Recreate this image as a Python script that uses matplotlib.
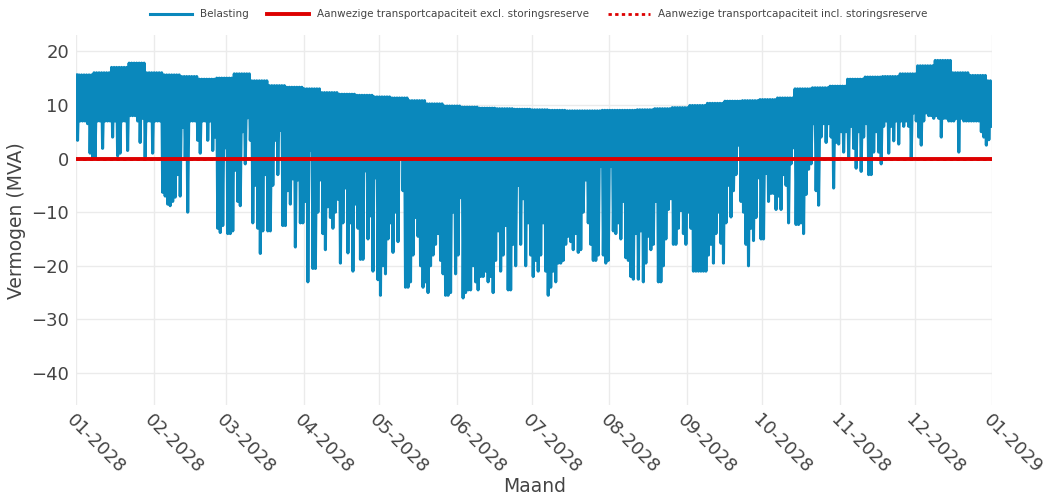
import numpy as np
import matplotlib
matplotlib.use('Agg')
import matplotlib.pyplot as plt
import matplotlib.dates as mdates
from datetime import datetime

# daily maximum load (MVA), one value per week (read from the top envelope)
week_max = [15.6, 16.0, 17.0, 17.8, 16.0, 15.6, 15.3, 14.8, 15.0, 15.8,
            14.5, 13.6, 13.3, 13.0, 12.3, 12.0, 11.8, 11.5, 11.3, 10.8,
            10.2, 9.8, 9.6, 9.4, 9.3, 9.2, 9.1, 9.0, 8.9, 8.9,
            9.0, 9.0, 9.1, 9.3, 9.5, 9.9, 10.3, 10.7, 10.8, 11.0,
            11.3, 13.0, 13.2, 13.5, 14.8, 15.2, 15.3, 15.8, 17.3, 18.3,
            16.0, 15.5, 14.5]

# daily minimum load (MVA) per month
jan_min = [3.4, 7, 7, 7, 6.5, 1, 0.2, 0, 7, 7, 1.9, 7, 7, 7, 4, 7, 0.5, 1, 7, 7,
           1.5, 8, 8, 8, 7, 3, 7.5, 0.3, 7, 7, 1]
feb_min = [7, 7, 7, -6.3, -7, -8.5, -8.8, -8, -7.2, -3, -7, 5.8, 0, -10, 7, 7, 7,
           3.4, 1, 7, 7, 3.4, 7, 1.5, 4, -13, -13.8, -12.5, 2]
mar_min = [-14, -14, -13.5, -2.2, -8, -8.8, 5, -1, 7.6, 3.4, -12, -5, -13, -17.7,
           -13.5, -3, -13.5, -13.5, -5, 3.4, -3, 5.3, -12.5, -12.5, -6, -8.5, -3.8,
           -16.5, -4, -12, -12]
apr_min = [-8, -23, 1.5, -20.5, -20.5, -10, -4, -14, -17, -9, -11, -13, -10, -7.6,
           -19.5, -12, -5.5, -17.6, -12, -21, -8.5, -13, -18.8, -18.8, -2.3, -15,
           -10.7, -21, -3.6, -22.6]
may_min = [-25.5, -20, -21.5, -15, -12, -17.5, -10, -15.5, 0.3, -6, -24, -24, -23,
           -18, -11, -14.5, -20, -24, -23, -25, -20, -18, -16, -14, -19, -21.5,
           -25.5, -25.5, -25, -10, -21.5]
jun_min = [-18, -7.3, -26, -25, -24.5, -24.5, -20, -23, -24.5, -22, -22, -21, -23,
           -22, -25, -19, -13.5, -21, -18, -12.5, -24.5, -24.5, -16, -20, -5, -16,
           -7.5, -20, -12, -18]
jul_min = [-22, -19, -21, -18, -12, -21, -25.5, -24, -21, -23, -19.5, -19.5, -19,
           -16, -14.5, -15.5, -17, -14, -17.5, -17, -10, -4, -12, -16, -19, -19,
           -18, -1.5, -18, -19.5, -19]
aug_min = [-1.5, -13.5, -14, -12, -15, -8, -18.5, -19, -22, -22.5, -14, -22.5,
           -13.5, -23, -19.5, -14.5, -17, -16, -8, -23, -23, -20, -15, -9.5, -7.5,
           -16, -16, -13, -9.7, -14, -16]
sep_min = [-10, -13, -21, -21, -21, -21, -21, -21, -18, -16, -19.5, -14, -10,
           -15.8, -19.5, -12, -5, -10.9, -6, -3, 2.5, -8, -10, -16, -20, -13,
           -15.3, -11, -3.6, -15]
oct_min = [-15, -2.8, -8, -6.5, -6.5, -9.5, -7, -9.5, -3, -5, -12, -1, 2, -12.3,
           -12.3, -12, -14, -6.7, -2, -1, 6.5, -6, -8.7, 4, 6.5, 3, 6.5, 4, -5.5,
           3, 2.7]
nov_min = [5, 1.2, 5, 0, 6, 1.9, -1.8, 5, -2.4, 4, 6.5, -3, -3, 1.2, 5, 1.2, -1,
           6, 7, 1, 6, 3.3, 7, 2.7, 7, 6, 7, 6, 0, 8.5]
dec_min = [7, 4, 2.5, 7, 8.5, 8, 8, 7.5, 8, 7.5, 4, 7.5, 7.5, 7, 7, 7, 7.5, 1.2,
           7.5, 7, 7, 7, 7, 7, 7, 7, 5, 4, 2.5, 3.5, 6]

capacity_excl = 0.0
capacity_incl = 0.0

month_ticks = [datetime(2028, m, 1) for m in range(1, 13)] + [datetime(2029, 1, 1)]

BLUE = "#0a88bc"
RED = "#dd0000"
TXT = "#444444"

daily_min = np.array(jan_min + feb_min + mar_min + apr_min + may_min + jun_min +
                     jul_min + aug_min + sep_min + oct_min + nov_min + dec_min)
n_days = len(daily_min)
daily_max = np.repeat(week_max, 7)[:n_days]

start = mdates.date2num(datetime(2028, 1, 1))
day = np.arange(n_days)
t = np.column_stack([start + day + 0.2, start + day + 0.6]).ravel()
y = np.column_stack([daily_max, daily_min]).ravel()

fig = plt.figure(figsize=(10.46, 4.96), dpi=100)
ax = fig.add_axes([0.0727, 0.183, 0.876, 0.746])

ax.plot(t, y, color=BLUE, linewidth=2.2, label="Belasting", zorder=2)
x0, x1 = mdates.date2num(month_ticks[0]), mdates.date2num(month_ticks[-1])
ax.plot([x0, x1], [capacity_incl] * 2, color=RED, linewidth=2.0, linestyle=(0, (1.2, 1.2)),
        label="Aanwezige transportcapaciteit incl. storingsreserve", zorder=3)
ax.plot([x0, x1], [capacity_excl] * 2, color=RED, linewidth=2.8,
        label="Aanwezige transportcapaciteit excl. storingsreserve", zorder=4)

ax.set_xlim(x0, x1)
ax.set_ylim(-46, 23)
ax.set_yticks([20, 10, 0, -10, -20, -30, -40])
ax.set_yticklabels(["20", "10", "0", "\u221210", "\u221220", "\u221230", "\u221240"])
ax.set_xticks([mdates.date2num(d) for d in month_ticks])
ax.set_xticklabels([d.strftime("%m-%Y") for d in month_ticks], rotation=-45,
                   ha="left", va="top", rotation_mode="anchor")
ax.grid(True, color="#ebebeb", linewidth=1)
ax.set_axisbelow(True)
for s in ax.spines.values():
    s.set_visible(False)
ax.tick_params(axis="both", length=0, labelsize=13, colors=TXT)
ax.tick_params(axis="y", pad=5)
ax.tick_params(axis="x", pad=4)

ax.set_xlabel("Maand", fontsize=13.5, color=TXT, labelpad=0)
ax.set_ylabel("Vermogen (MVA)", fontsize=13.5, color=TXT, labelpad=4)

handles, labels = ax.get_legend_handles_labels()
order = [0, 2, 1]
fig.legend([handles[i] for i in order], [labels[i] for i in order],
           loc="upper center", bbox_to_anchor=(0.515, 1.0), ncol=3, frameon=False,
           fontsize=7.5, handlelength=4, columnspacing=1.8, labelcolor=TXT)

fig.savefig("out.png", dpi=100, facecolor="white")
plt.close(fig)
